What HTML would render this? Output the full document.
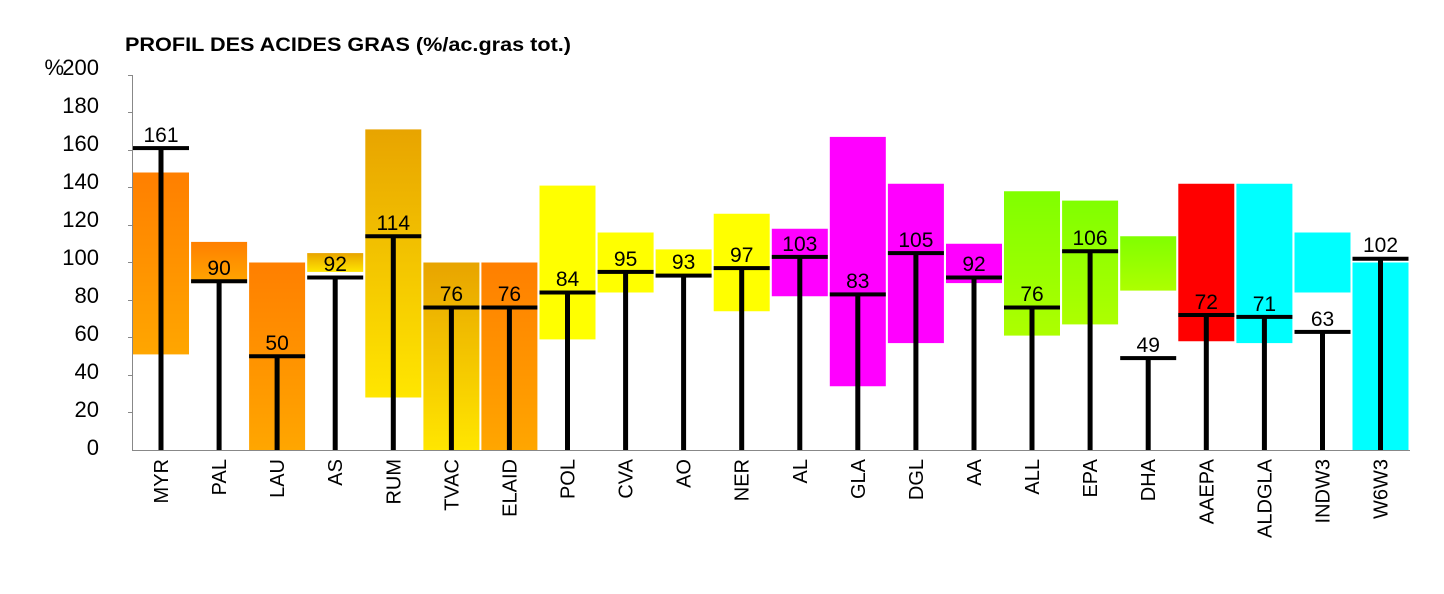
<!DOCTYPE html>
<html><head><meta charset="utf-8"><style>html,body{margin:0;padding:0;background:#fff}svg{display:block}</style></head>
<body>
<svg width="1444" height="594" viewBox="0 0 1444 594" xmlns="http://www.w3.org/2000/svg" font-family="Liberation Sans, Arial, sans-serif">
<defs>
<linearGradient id="or" x1="0" y1="0" x2="0" y2="1"><stop offset="0" stop-color="#ff7f00"/><stop offset="1" stop-color="#ffa600"/></linearGradient>
<linearGradient id="go" x1="0" y1="0" x2="0" y2="1"><stop offset="0" stop-color="#e8a400"/><stop offset="1" stop-color="#ffe600"/></linearGradient>
<linearGradient id="gr" x1="0" y1="0" x2="0" y2="1"><stop offset="0" stop-color="#80ff00"/><stop offset="1" stop-color="#adff00"/></linearGradient>
</defs>
<text x="125" y="51" font-size="19" font-weight="bold" textLength="446" lengthAdjust="spacingAndGlyphs">PROFIL DES ACIDES GRAS (%/ac.gras tot.)</text>
<g font-size="22" text-anchor="end">
<text x="64" y="75">%</text>
<text x="99" y="75">200</text><text x="99" y="113">180</text><text x="99" y="151">160</text><text x="99" y="189">140</text><text x="99" y="227">120</text><text x="99" y="265">100</text><text x="99" y="303">80</text><text x="99" y="341">60</text><text x="99" y="379">40</text><text x="99" y="417">20</text><text x="99" y="455">0</text>
</g>
<g stroke="#888" stroke-width="1">
<line x1="132.5" y1="75" x2="132.5" y2="450"/>
<line x1="132" y1="450.5" x2="1410" y2="450.5"/>
<line x1="128" y1="75.5" x2="132" y2="75.5"/><line x1="128" y1="112.5" x2="132" y2="112.5"/><line x1="128" y1="150.5" x2="132" y2="150.5"/><line x1="128" y1="187.5" x2="132" y2="187.5"/><line x1="128" y1="225.5" x2="132" y2="225.5"/><line x1="128" y1="262.5" x2="132" y2="262.5"/><line x1="128" y1="300.5" x2="132" y2="300.5"/><line x1="128" y1="337.5" x2="132" y2="337.5"/><line x1="128" y1="375.5" x2="132" y2="375.5"/><line x1="128" y1="412.5" x2="132" y2="412.5"/>
</g>
<rect x="133" y="172.5" width="56" height="181.9" fill="url(#or)"/>
<rect x="191.1" y="241.9" width="56" height="41.2" fill="url(#or)"/>
<rect x="249.1" y="262.5" width="56" height="187.5" fill="url(#or)"/>
<rect x="307.2" y="253.1" width="56" height="18.8" fill="url(#go)"/>
<rect x="365.3" y="129.4" width="56" height="268.1" fill="url(#go)"/>
<rect x="423.4" y="262.5" width="56" height="187.5" fill="url(#go)"/>
<rect x="481.4" y="262.5" width="56" height="187.5" fill="url(#or)"/>
<rect x="539.5" y="185.6" width="56" height="153.8" fill="#ffff00"/>
<rect x="597.6" y="232.5" width="56" height="60" fill="#ffff00"/>
<rect x="655.6" y="249.4" width="56" height="28.1" fill="#ffff00"/>
<rect x="713.7" y="213.75" width="56" height="97.5" fill="#ffff00"/>
<rect x="771.8" y="228.75" width="56" height="67.5" fill="#ff00ff"/>
<rect x="829.8" y="136.9" width="56" height="249.35" fill="#ff00ff"/>
<rect x="887.9" y="183.75" width="56" height="159.35" fill="#ff00ff"/>
<rect x="946" y="243.75" width="56" height="39.35" fill="#ff00ff"/>
<rect x="1004" y="191.25" width="56" height="144.35" fill="url(#gr)"/>
<rect x="1062.1" y="200.6" width="56" height="123.8" fill="url(#gr)"/>
<rect x="1120.2" y="236.25" width="56" height="54.35" fill="url(#gr)"/>
<rect x="1178.3" y="183.75" width="56" height="157.5" fill="#ff0000"/>
<rect x="1236.4" y="183.75" width="56" height="159.35" fill="#00ffff"/>
<rect x="1294.5" y="232.5" width="56" height="60" fill="#00ffff"/>
<rect x="1352.5" y="262.5" width="56" height="187.5" fill="#00ffff"/>
<g fill="#000">
<rect x="133" y="146.1" width="56" height="4"/><rect x="158.5" y="148" width="5" height="302"/>
<rect x="191.1" y="279.25" width="56" height="4"/><rect x="216.6" y="281" width="5" height="169"/>
<rect x="249.1" y="354.25" width="56" height="4"/><rect x="274.6" y="356" width="5" height="94"/>
<rect x="307.2" y="275.5" width="56" height="4"/><rect x="332.7" y="277" width="5" height="173"/>
<rect x="365.3" y="234.25" width="56" height="4"/><rect x="390.8" y="236" width="5" height="214"/>
<rect x="423.4" y="305.5" width="56" height="4"/><rect x="448.9" y="307" width="5" height="143"/>
<rect x="481.4" y="305.5" width="56" height="4"/><rect x="506.9" y="307" width="5" height="143"/>
<rect x="539.5" y="290.5" width="56" height="4"/><rect x="565" y="292" width="5" height="158"/>
<rect x="597.6" y="269.9" width="56" height="4"/><rect x="623.1" y="271" width="5" height="179"/>
<rect x="655.6" y="273.6" width="56" height="4"/><rect x="681.1" y="275" width="5" height="175"/>
<rect x="713.7" y="266.1" width="56" height="4"/><rect x="739.2" y="268" width="5" height="182"/>
<rect x="771.8" y="254.9" width="56" height="4"/><rect x="797.3" y="256" width="5" height="194"/>
<rect x="829.8" y="292.4" width="56" height="4"/><rect x="855.3" y="294" width="5" height="156"/>
<rect x="887.9" y="251.1" width="56" height="4"/><rect x="913.4" y="253" width="5" height="197"/>
<rect x="946" y="275.5" width="56" height="4"/><rect x="971.5" y="277" width="5" height="173"/>
<rect x="1004" y="305.5" width="56" height="4"/><rect x="1029.5" y="307" width="5" height="143"/>
<rect x="1062.1" y="249.25" width="56" height="4"/><rect x="1087.6" y="251" width="5" height="199"/>
<rect x="1120.2" y="356.1" width="56" height="4"/><rect x="1145.7" y="358" width="5" height="92"/>
<rect x="1178.3" y="313" width="56" height="4"/><rect x="1203.8" y="315" width="5" height="135"/>
<rect x="1236.4" y="314.9" width="56" height="4"/><rect x="1261.9" y="317" width="5" height="133"/>
<rect x="1294.5" y="329.9" width="56" height="4"/><rect x="1320" y="332" width="5" height="118"/>
<rect x="1352.5" y="256.75" width="56" height="4"/><rect x="1378" y="259" width="5" height="191"/>
</g>
<g font-size="21" text-anchor="middle">
<text x="161" y="142">161</text><text x="219.1" y="275">90</text><text x="277.1" y="350">50</text><text x="335.2" y="271">92</text><text x="393.3" y="230">114</text><text x="451.4" y="301">76</text><text x="509.4" y="301">76</text><text x="567.5" y="286">84</text><text x="625.6" y="266">95</text><text x="683.6" y="269">93</text><text x="741.7" y="262">97</text><text x="799.8" y="251">103</text><text x="857.8" y="288">83</text><text x="915.9" y="247">105</text><text x="974" y="271">92</text><text x="1032" y="301">76</text><text x="1090" y="245">106</text><text x="1148.2" y="352">49</text><text x="1206.3" y="309">72</text><text x="1264.4" y="311">71</text><text x="1322.5" y="326">63</text><text x="1380.5" y="252">102</text>
</g>
<g font-size="20" text-anchor="end">
<text transform="translate(168,459) rotate(-90)">MYR</text>
<text transform="translate(226.1,459) rotate(-90)">PAL</text>
<text transform="translate(284.1,459) rotate(-90)">LAU</text>
<text transform="translate(342.2,459) rotate(-90)">AS</text>
<text transform="translate(400.3,459) rotate(-90)">RUM</text>
<text transform="translate(458.4,459) rotate(-90)">TVAC</text>
<text transform="translate(516.4,459) rotate(-90)">ELAID</text>
<text transform="translate(574.5,459) rotate(-90)">POL</text>
<text transform="translate(632.6,459) rotate(-90)">CVA</text>
<text transform="translate(690.6,459) rotate(-90)">AO</text>
<text transform="translate(748.7,459) rotate(-90)">NER</text>
<text transform="translate(806.8,459) rotate(-90)">AL</text>
<text transform="translate(864.8,459) rotate(-90)">GLA</text>
<text transform="translate(922.9,459) rotate(-90)">DGL</text>
<text transform="translate(981,459) rotate(-90)">AA</text>
<text transform="translate(1039,459) rotate(-90)">ALL</text>
<text transform="translate(1097.1,459) rotate(-90)">EPA</text>
<text transform="translate(1155.2,459) rotate(-90)">DHA</text>
<text transform="translate(1213.3,459) rotate(-90)">AAEPA</text>
<text transform="translate(1271.4,459) rotate(-90)">ALDGLA</text>
<text transform="translate(1329.5,459) rotate(-90)">INDW3</text>
<text transform="translate(1387.5,459) rotate(-90)">W6W3</text>
</g>
</svg>
</body></html>
